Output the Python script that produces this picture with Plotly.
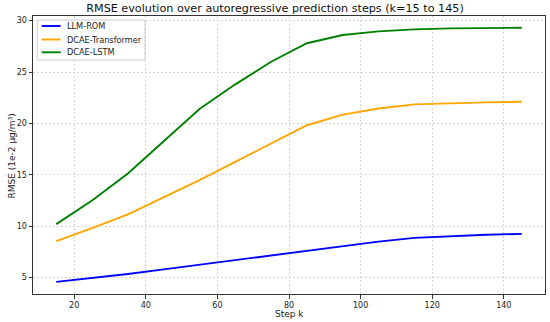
import plotly.graph_objects as go

steps = [15, 25, 35, 45, 55, 65, 75, 85, 95, 105, 115, 125, 135, 145]
llm_rom = [4.58, 4.95, 5.35, 5.8, 6.25, 6.7, 7.15, 7.6, 8.07, 8.5, 8.86, 9.05, 9.17, 9.25]
dcae_transformer = [8.54, 9.8, 11.14, 12.8, 14.48, 16.26, 18.05, 19.82, 20.85, 21.45, 21.85, 21.98, 22.05, 22.1]
dcae_lstm = [10.2, 12.5, 15.13, 18.3, 21.4, 23.8, 26.0, 27.8, 28.6, 28.95, 29.15, 29.25, 29.28, 29.3]
x_ticks = [20, 40, 60, 80, 100, 120, 140]
y_ticks = [5, 10, 15, 20, 25, 30]

series = [("LLM-ROM", llm_rom, "#0000ff"),
          ("DCAE-Transformer", dcae_transformer, "#ffa500"),
          ("DCAE-LSTM", dcae_lstm, "#008000")]

FONT = "DejaVu Sans"
fig = go.Figure()
for name, vals, col in series:
    fig.add_trace(go.Scatter(x=steps, y=vals, mode="lines", name=name,
                             line=dict(color=col, width=1.9), showlegend=False))

axis_common = dict(showline=True, linecolor="#333", linewidth=1, mirror=True,
                   ticks="outside", ticklen=3.5, tickcolor="#333", automargin=False,
                   showgrid=True, gridcolor="#d6d6d6", griddash="2px,2px", gridwidth=0.8,
                   zeroline=False, tickfont=dict(size=8, color="#222", family=FONT))

# plot area in pixels: x 33..545, y 16..294
def px(x): return (x - 33) / 512
def py(y): return (294 - y) / 278

shapes = [dict(type="rect", xref="paper", yref="paper", x0=px(37.3), x1=px(145), y0=py(60), y1=py(20),
               line=dict(color="#cccccc", width=1), fillcolor="rgba(255,255,255,0.85)", layer="above")]
annotations = []
for (name, vals, col), ly in zip(series, [26, 39.5, 52.3]):
    shapes.append(dict(type="line", xref="paper", yref="paper", x0=px(41.7), x1=px(60.7),
                       y0=py(ly), y1=py(ly), line=dict(color=col, width=1.9), layer="above"))
    annotations.append(dict(text=name, xref="paper", yref="paper", x=px(65), y=py(ly),
                            xanchor="left", yanchor="middle", showarrow=False,
                            font=dict(size=8.2, color="#222", family=FONT)))

annotations.append(dict(text="Step k", xref="paper", yref="paper", x=0.5, y=py(313.7),
                        xanchor="center", yanchor="middle", showarrow=False,
                        font=dict(size=9, color="#222", family=FONT)))
annotations.append(dict(text="RMSE (1e-2 μg/m³)", xref="paper", yref="paper", x=px(11.5), y=py(156),
                        xanchor="center", yanchor="middle", showarrow=False, textangle=-90,
                        font=dict(size=9, color="#222", family=FONT)))

fig.update_layout(
    width=550, height=322,
    margin=dict(l=33, r=5, t=16, b=28, autoexpand=False),
    paper_bgcolor="white", plot_bgcolor="white",
    font=dict(family=FONT, color="#222"),
    title=dict(text="RMSE evolution over autoregressive prediction steps (k=15 to 145)",
               x=0.5, xanchor="center", xref="container", y=1 - 8.3 / 322, yref="container",
               yanchor="middle", font=dict(size=11.2, color="#111", family=FONT)),
    xaxis=dict(range=[8.5, 151.5], tickvals=x_ticks, **axis_common),
    yaxis=dict(range=[3.40, 30.45], tickvals=y_ticks, **axis_common),
    shapes=shapes, annotations=annotations,
    showlegend=False,
)

fig.write_html("out.html", config={"displayModeBar": False},
               post_script="document.body.style.margin='0';document.body.style.overflow='hidden';")
